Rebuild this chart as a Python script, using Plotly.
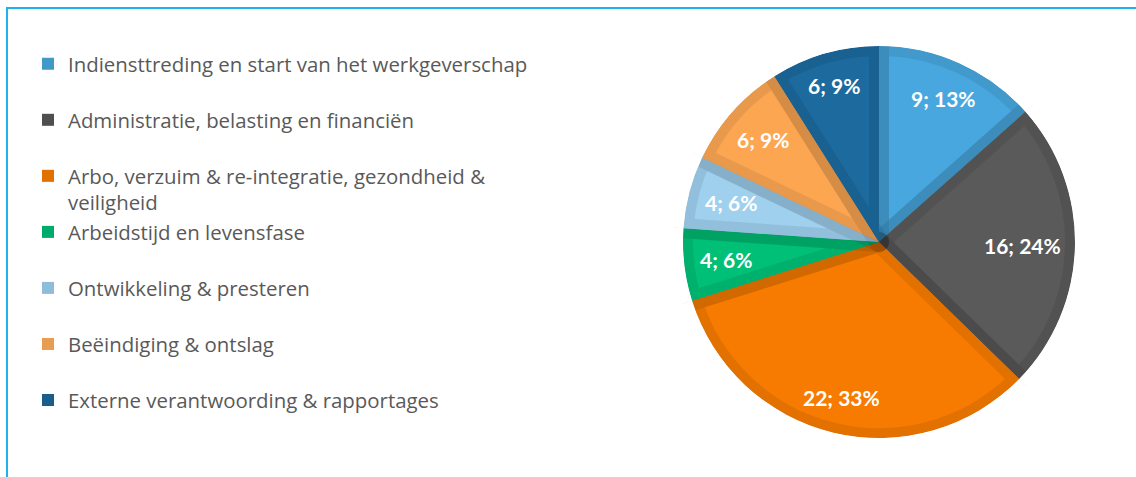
import math
import plotly.graph_objects as go

categories = [
    "Indiensttreding en start van het werkgeverschap",
    "Administratie, belasting en financiën",
    "Arbo, verzuim & re-integratie, gezondheid &<br>veiligheid",
    "Arbeidstijd en levensfase",
    "Ontwikkeling & presteren",
    "Beëindiging & ontslag",
    "Externe verantwoording & rapportages",
]
values = [9, 16, 22, 4, 4, 6, 6]

fill_colors = ["#48A7DE", "#5A5A5A", "#F77B00", "#00BF77", "#9FD0EE", "#FCA652", "#1C6A9E"]
band_colors = ["#4497CB", "#4F4F4F", "#E07000", "#00AA6A", "#8EBDDB", "#E99D50", "#195D8C"]

W, H = 1136, 477
cx, cy, R = 879, 242, 196
pad = 14

def dom(r):
    return dict(x=[(cx - r) / W, (cx + r) / W],
                y=[(H - cy - r) / H, (H - cy + r) / H])

legend_labels = [c if "<br>" in c else c + "<br> " for c in categories]

fig = go.Figure()

# base pie (band colours) - also supplies the legend
fig.add_trace(go.Pie(
    labels=legend_labels, values=values, sort=False, direction="clockwise", rotation=0,
    marker=dict(colors=band_colors, line=dict(width=0)),
    textinfo="none", hoverinfo="skip", domain=dom(R), showlegend=True,
))

# inner lighter fill with darkened inset band
fig.add_trace(go.Pie(
    labels=categories, values=values, sort=False, direction="clockwise", rotation=0,
    marker=dict(colors=fill_colors, line=dict(color="rgba(0,0,0,0.08)", width=20)),
    textinfo="none", domain=dom(R), showlegend=False,
))

# white mask over stroke spill outside the circle
fig.add_trace(go.Pie(
    labels=categories, values=values, sort=False, direction="clockwise", rotation=0,
    marker=dict(colors=["white"] * len(values), line=dict(width=0)),
    hole=R / (R + pad), textinfo="none", hoverinfo="skip",
    domain=dom(R + pad), showlegend=False,
))

# data labels "value; percent" placed best-fit near the rim
total = sum(values)
annotations = []
cum = 0
label_font = 21
Rc = 182
for v in values:
    mid = (cum + v / 2) / total * 2 * math.pi
    cum += v
    txt = f"{v}; {round(100 * v / total)}%"
    w = 0.52 * label_font * len(txt)
    h = 20
    ux, uy = math.sin(mid), -math.cos(mid)
    dx = math.copysign(w / 2, ux)
    dy = math.copysign(h / 2, uy)
    ud = ux * dx + uy * dy
    r = -ud + math.sqrt(max(ud * ud - (dx * dx + dy * dy) + Rc * Rc, 0))
    px, py = cx + r * ux, cy + r * uy
    annotations.append(dict(
        x=px / W, y=(H - py) / H, xref="paper", yref="paper",
        text=txt, showarrow=False, xanchor="center", yanchor="middle",
        font=dict(family="Lato", size=label_font, color="white", weight="bold"),
    ))

fig.update_layout(
    width=W, height=H,
    margin=dict(l=0, r=0, t=0, b=0),
    paper_bgcolor="white", plot_bgcolor="white",
    legend=dict(
        x=28 / W, xanchor="left", y=1 - 44 / H, yanchor="top",
        valign="top", font=dict(family="Open Sans", size=20.4, color="#595959"),
        bgcolor="rgba(0,0,0,0)", borderwidth=0, traceorder="normal",
    ),
    annotations=annotations,
    shapes=[dict(type="rect", xref="paper", yref="paper",
                 x0=7 / W, x1=1.1, y0=-0.1, y1=1 - 8 / H,
                 line=dict(color="#1DB4EE", width=2), layer="below")],
)

fig.write_html("out.html", config={"displayModeBar": False},
               post_script="document.body.style.margin='0';")
